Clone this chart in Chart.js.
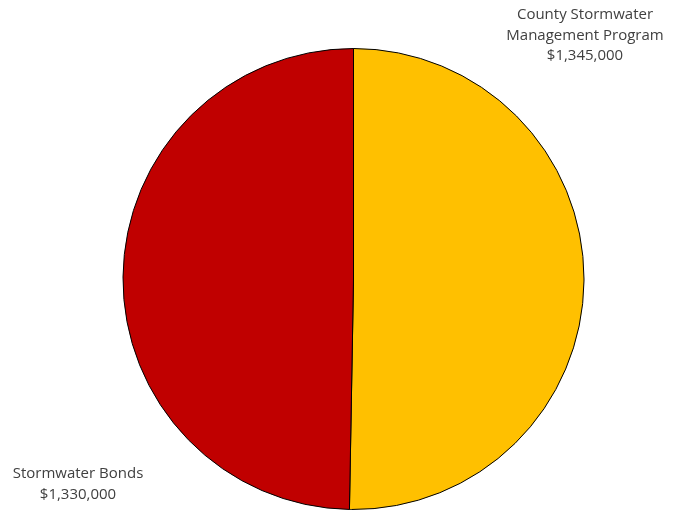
<!DOCTYPE html>
<html>
<head>
<meta charset="utf-8">
<script src="https://cdn.jsdelivr.net/npm/chart.js@4"></script>
<style>
  html, body { margin: 0; padding: 0; background: #fff; }
  #wrap { width: 683px; height: 510px; position: relative; }
</style>
</head>
<body>
<div id="wrap"><canvas id="grafico-pizza"></canvas></div>
<script>
// Funding sources
const categorias = ['County Stormwater Management Program', 'Stormwater Bonds'];
const valores = [1345000, 1330000];
const cores = ['#FFC000', '#C00000'];
// label lines as shown next to each slice
const rotulos = [
    ['County Stormwater', 'Management Program', '$1,345,000'],
    ['Stormwater Bonds', '$1,330,000']
];

// draws the outside labels
const rotulosPlugin = {
    id: 'rotulos',
    afterDraw(chart) {
        const ctx = chart.ctx;
        ctx.save();
        ctx.font = '15px "Open Sans", Lato, sans-serif';
        ctx.fillStyle = '#404040';
        ctx.textAlign = 'center';
        ctx.textBaseline = 'middle';
        const pos = [[585, 15], [78, 474]];
        rotulos.forEach((linhas, i) => {
            linhas.forEach((txt, j) => {
                ctx.fillText(txt, pos[i][0], pos[i][1] + j * 20.5);
            });
        });
        ctx.restore();
    }
};

new Chart(document.getElementById('grafico-pizza').getContext('2d'), {
    type: 'pie',
    data: {
        labels: categorias,
        datasets: [{
            data: valores,
            backgroundColor: cores,
            borderColor: '#000000',
            borderWidth: 1
        }]
    },
    options: {
        responsive: true,
        maintainAspectRatio: false,
        animation: false,
        layout: {
            padding: { top: 48, bottom: 0, left: 24, right: 0 }
        },
        plugins: {
            legend: { display: false },
            tooltip: { enabled: false }
        }
    },
    plugins: [rotulosPlugin]
});
</script>
</body>
</html>
